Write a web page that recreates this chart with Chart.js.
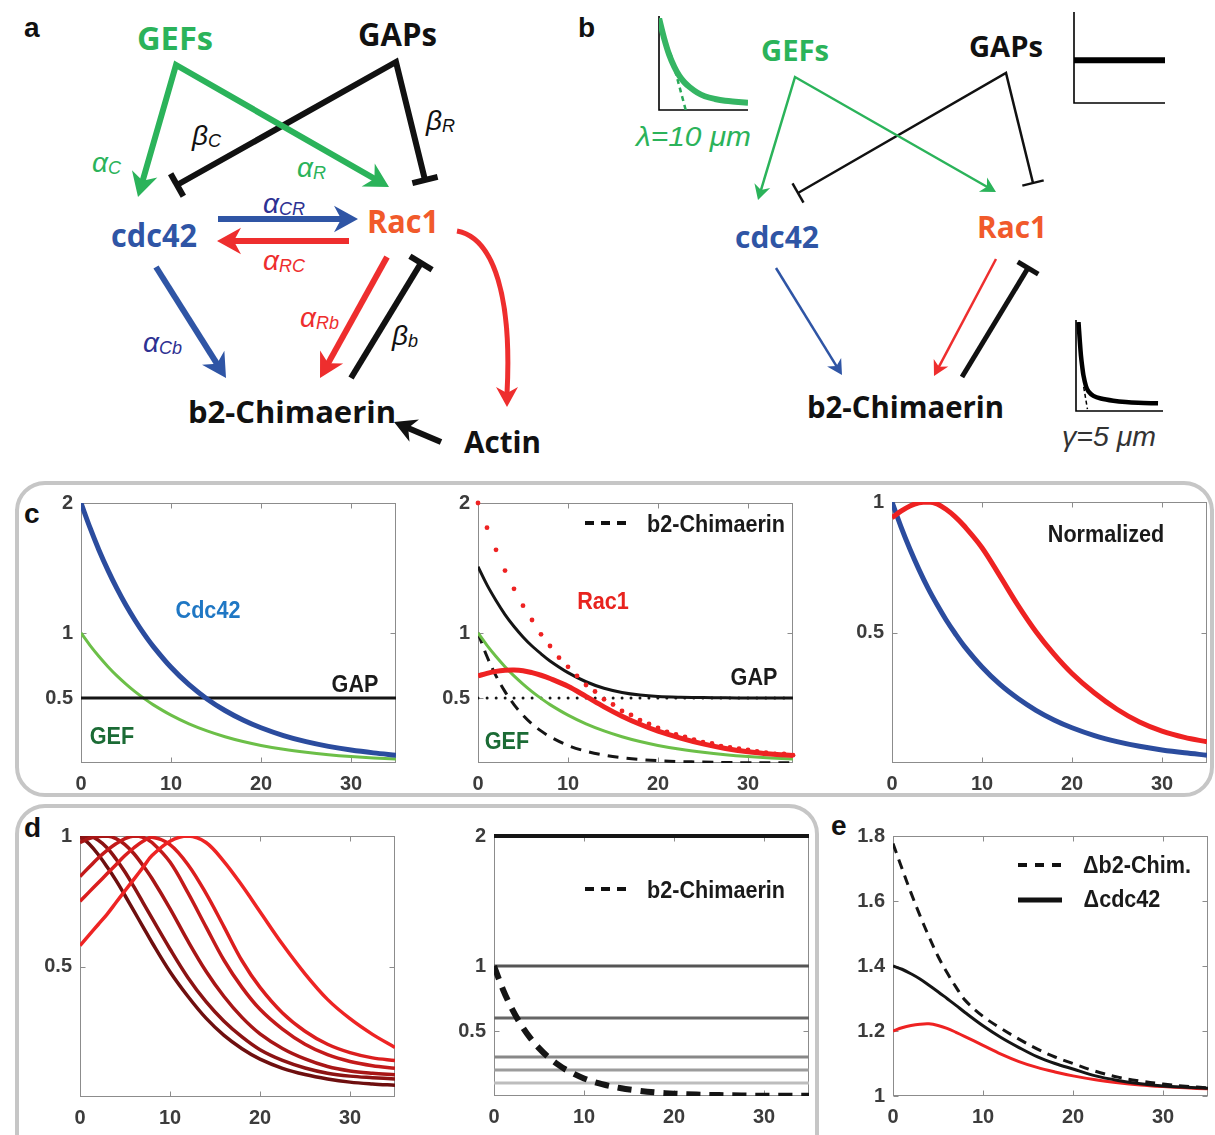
<!DOCTYPE html>
<html>
<head>
<meta charset="utf-8">
<script src="https://cdn.jsdelivr.net/npm/chart.js@4.4.1/dist/chart.umd.min.js"></script>
<style>
html, body { margin: 0; padding: 0; background: #fff; }
body { position: relative; width: 1215px; height: 1135px; overflow: hidden; font-family: 'Liberation Sans', Arial, sans-serif; }
canvas { position: absolute; z-index: 1; }
#diag { position: absolute; left: 0; top: 0; z-index: 0; }
.lbl { position: absolute; z-index: 2; font-weight: bold; font-size: 24px; line-height: 1; white-space: nowrap;
       transform: translate(-50%, -50%) scaleX(0.9); }
</style>
</head>
<body>
<svg id="diag" width="1215" height="1135"></svg>
<script>
// shared x grid (um) and ticks
const X = [0, 1, 2, 3, 4, 5, 6, 7, 8, 10, 12, 14, 16, 18, 20, 22.5, 25, 27.5, 30, 32.5, 35];
const xTicks = [0, 10, 20, 30];
const yTicksC = [0.5, 1, 2];
const yTicksN = [0.5, 1];
const yTicksE = [1, 1.2, 1.4, 1.6, 1.8];

// panel c
const cdc42 = [2.000, 1.810, 1.637, 1.482, 1.341, 1.213, 1.098, 0.993, 0.899, 0.736, 0.602, 0.493, 0.404, 0.331, 0.271, 0.211, 0.164, 0.128, 0.100, 0.078, 0.060];
const gef = [1.000, 0.905, 0.819, 0.741, 0.670, 0.607, 0.549, 0.497, 0.449, 0.368, 0.301, 0.247, 0.202, 0.165, 0.135, 0.105, 0.082, 0.064, 0.050, 0.039, 0.030];
const gapX = [0, 35];
const gapLevel = [0.5, 0.5];
const gapDecay = [1.510, 1.370, 1.250, 1.142, 1.050, 0.970, 0.900, 0.840, 0.785, 0.695, 0.625, 0.575, 0.543, 0.523, 0.512, 0.506, 0.503, 0.501, 0.500, 0.500, 0.500];
const rac1 = [0.670, 0.690, 0.705, 0.713, 0.715, 0.710, 0.695, 0.675, 0.650, 0.590, 0.512, 0.432, 0.360, 0.298, 0.245, 0.192, 0.147, 0.112, 0.087, 0.070, 0.058];
const b2Chim = [1.000, 0.819, 0.670, 0.549, 0.449, 0.368, 0.301, 0.247, 0.202, 0.135, 0.091, 0.061, 0.041, 0.027, 0.018, 0.011, 0.007, 0.004, 0.002, 0.0015, 0.001];
const dotX = [0, 1, 2, 3, 4, 5, 6, 7, 8, 9, 10, 11, 12, 13, 14, 15, 16, 17, 18, 19, 20, 21, 22, 23, 24, 25, 26, 27, 28, 29, 30, 31, 32, 33, 34, 35];
const rac1Dots = [2.00, 1.81, 1.64, 1.48, 1.34, 1.21, 1.10, 0.99, 0.90, 0.81, 0.74, 0.67, 0.60, 0.55, 0.49, 0.45, 0.40, 0.37, 0.33, 0.30, 0.27, 0.24, 0.22, 0.20, 0.18, 0.16, 0.15, 0.13, 0.12, 0.11, 0.10, 0.09, 0.08, 0.07, 0.07, 0.06];
const rac1Norm = [0.940, 0.965, 0.985, 0.997, 1.000, 0.993, 0.972, 0.944, 0.909, 0.825, 0.716, 0.604, 0.503, 0.417, 0.343, 0.268, 0.206, 0.157, 0.122, 0.098, 0.081];
const cdc42Norm = [1.000, 0.905, 0.819, 0.741, 0.670, 0.607, 0.549, 0.497, 0.449, 0.368, 0.301, 0.247, 0.202, 0.165, 0.135, 0.105, 0.082, 0.064, 0.050, 0.039, 0.030];

// panel d
const sweepA = [1.000, 0.970, 0.930, 0.882, 0.830, 0.772, 0.712, 0.652, 0.592, 0.480, 0.385, 0.302, 0.236, 0.185, 0.145, 0.110, 0.086, 0.069, 0.057, 0.050, 0.045];
const sweepB = [0.990, 1.000, 0.985, 0.955, 0.912, 0.862, 0.805, 0.745, 0.685, 0.567, 0.457, 0.365, 0.290, 0.230, 0.181, 0.140, 0.111, 0.091, 0.080, 0.074, 0.069];
const sweepC = [0.975, 0.990, 0.998, 1.000, 0.990, 0.967, 0.932, 0.887, 0.837, 0.722, 0.597, 0.482, 0.385, 0.305, 0.242, 0.186, 0.146, 0.117, 0.100, 0.091, 0.085];
const sweepD = [0.845, 0.880, 0.915, 0.945, 0.970, 0.990, 1.000, 0.995, 0.975, 0.900, 0.782, 0.652, 0.524, 0.420, 0.336, 0.260, 0.202, 0.162, 0.136, 0.120, 0.110];
const sweepE = [0.750, 0.785, 0.820, 0.855, 0.890, 0.925, 0.955, 0.980, 0.995, 0.967, 0.890, 0.780, 0.652, 0.522, 0.420, 0.322, 0.252, 0.202, 0.170, 0.150, 0.140];
const sweepF = [0.580, 0.620, 0.660, 0.700, 0.745, 0.790, 0.835, 0.880, 0.925, 0.980, 1.000, 0.975, 0.902, 0.810, 0.710, 0.585, 0.472, 0.374, 0.300, 0.240, 0.190];
const gapLevels = [2, 1, 0.6, 0.3, 0.2, 0.1];

// panel e
const deltaB2 = [1.777, 1.700, 1.625, 1.555, 1.490, 1.430, 1.380, 1.335, 1.295, 1.245, 1.208, 1.175, 1.145, 1.120, 1.100, 1.076, 1.058, 1.046, 1.037, 1.030, 1.025];
const deltaCdc42 = [1.400, 1.390, 1.376, 1.360, 1.341, 1.321, 1.300, 1.279, 1.257, 1.216, 1.180, 1.149, 1.121, 1.100, 1.083, 1.062, 1.048, 1.038, 1.031, 1.027, 1.024];
const deltaRac1 = [1.200, 1.210, 1.217, 1.221, 1.222, 1.217, 1.208, 1.196, 1.183, 1.156, 1.129, 1.106, 1.088, 1.074, 1.062, 1.050, 1.041, 1.034, 1.029, 1.025, 1.022];

// panel b insets
const lambdaX = [0, 2, 4, 6, 8, 10, 12, 15, 18, 22, 26, 30, 35];
const lambdaY = [1.0, 0.78, 0.60, 0.47, 0.37, 0.30, 0.25, 0.19, 0.15, 0.12, 0.10, 0.09, 0.08];
const lambdaTanX = [4.5, 10.5];
const lambdaTanY = [0.62, 0];
const gapInsetY = [0.48, 0.48];
const gammaX = [1, 1.5, 2, 2.5, 3, 4, 5, 7, 10, 15, 20, 25, 33];
const gammaY = [1.0, 0.8, 0.62, 0.5, 0.4, 0.28, 0.22, 0.17, 0.14, 0.115, 0.1, 0.092, 0.086];
const gammaTanX = [3.1, 4.6];
const gammaTanY = [0.27, 0.02];

const FONT = "'Liberation Sans', Arial, sans-serif";
const RED = '#ee2222';
const BLUE = '#2b4c9e';
const LGREEN = '#6cbf48';
const INK = '#151515';

function pts(xs, ys) {
  return xs.map((x, i) => ({ x: x, y: ys[i] }));
}

function line(data, color, width, dash) {
  return {
    data: data,
    borderColor: color,
    borderWidth: width,
    borderDash: dash || [],
    pointRadius: 0,
    fill: false,
    tension: 0.35
  };
}

// matlab style box with inward ticks, or plain left/bottom axes
const boxPlugin = {
  id: 'box',
  beforeDatasetsDraw(chart, args, opts) {
    const ctx = chart.ctx;
    const a = chart.chartArea;
    ctx.save();
    if (opts.mode === 'box') {
      const l = Math.round(a.left) + 0.5, r = Math.round(a.right) - 0.5;
      const t = Math.round(a.top) + 0.5, b = Math.round(a.bottom) - 0.5;
      ctx.strokeStyle = '#8c8c8c';
      ctx.lineWidth = 1;
      ctx.strokeRect(l, t, r - l, b - t);
      ctx.beginPath();
      chart.scales.x.ticks.forEach(tk => {
        const px = Math.round(chart.scales.x.getPixelForValue(tk.value)) + 0.5;
        ctx.moveTo(px, b); ctx.lineTo(px, b - 5);
        ctx.moveTo(px, t); ctx.lineTo(px, t + 5);
      });
      chart.scales.y.ticks.forEach(tk => {
        const py = Math.round(chart.scales.y.getPixelForValue(tk.value)) + 0.5;
        ctx.moveTo(l, py); ctx.lineTo(l + 5, py);
        ctx.moveTo(r, py); ctx.lineTo(r - 5, py);
      });
      ctx.stroke();
    } else {
      ctx.strokeStyle = '#000';
      ctx.lineWidth = 1.6;
      ctx.beginPath();
      ctx.moveTo(a.left, a.top - 2);
      ctx.lineTo(a.left, a.bottom);
      ctx.lineTo(a.right, a.bottom);
      ctx.stroke();
    }
    ctx.restore();
  }
};

function makePlot(area, yMin, yMax, yTicks, datasets, axes) {
  const L = area[0], T = area[1], R = area[2], B = area[3];
  const YW = axes ? 60 : 4, PT = axes ? 16 : 4, PR = axes ? 12 : 4, XH = axes ? 40 : 4;
  const canvas = document.createElement('canvas');
  canvas.width = (R - L) + YW + PR;
  canvas.height = (B - T) + PT + XH;
  canvas.style.left = (L - YW) + 'px';
  canvas.style.top = (T - PT) + 'px';
  document.body.appendChild(canvas);
  const tickFont = { family: FONT, size: 20, weight: 'bold' };
  return new Chart(canvas.getContext('2d'), {
    type: 'line',
    data: { datasets: datasets },
    options: {
      animation: false,
      responsive: false,
      devicePixelRatio: 1,
      layout: { padding: { left: axes ? 0 : 4, top: PT, right: PR, bottom: axes ? 0 : 4 } },
      plugins: { legend: { display: false }, tooltip: { enabled: false }, box: { mode: axes ? 'box' : 'axes' } },
      scales: {
        x: {
          type: 'linear', min: 0, max: 35, display: axes,
          grid: { display: false, drawTicks: false }, border: { display: false },
          ticks: { color: '#3c3c3c', font: tickFont, padding: 9, maxRotation: 0, autoSkip: false, callback: v => String(v) },
          afterBuildTicks: s => { s.ticks = xTicks.map(v => ({ value: v })); },
          afterFit: s => { s.height = XH; }
        },
        y: {
          type: 'linear', min: yMin, max: yMax, display: axes,
          grid: { display: false, drawTicks: false }, border: { display: false },
          ticks: { color: '#3c3c3c', font: tickFont, padding: 8, autoSkip: false, callback: v => String(v) },
          afterBuildTicks: s => { s.ticks = yTicks.map(v => ({ value: v })); },
          afterFit: s => { s.width = YW; }
        }
      }
    },
    plugins: [boxPlugin]
  });
}

// ---- panel c
makePlot([81, 499, 396, 763], 0, 2, yTicksC, [
  line(pts(X, cdc42), BLUE, 5),
  line(pts(gapX, gapLevel), INK, 3),
  line(pts(X, gef), LGREEN, 3)
], true);

makePlot([478, 499, 793, 763], 0, 2, yTicksC, [
  { data: pts(dotX, rac1Dots), showLine: false, pointRadius: 2.4, pointBackgroundColor: RED,
    pointBorderWidth: 0, borderColor: RED, clip: false },
  line(pts(X, rac1), RED, 5),
  line(pts(X, gapDecay), INK, 3),
  line(pts(X, gef), LGREEN, 3),
  line(pts(X, b2Chim), INK, 3, [11, 8]),
  Object.assign(line(pts(gapX, gapLevel), INK, 3, [0, 9]), { borderCapStyle: 'round' })
], true);

makePlot([892, 498, 1207, 763], 0, 1, yTicksN, [
  line(pts(X, rac1Norm), RED, 5),
  line(pts(X, cdc42Norm), BLUE, 5)
], true);

// ---- panel d
makePlot([80, 832, 395, 1097], 0, 1, yTicksN, [
  line(pts(X, sweepF), '#ee2424', 3.5),
  line(pts(X, sweepE), '#db1e1e', 3.5),
  line(pts(X, sweepD), '#c31a1a', 3.5),
  line(pts(X, sweepC), '#a81616', 3.5),
  line(pts(X, sweepB), '#8c1313', 3.5),
  line(pts(X, sweepA), '#6e0f0f', 3.5)
], true);

const levelColors = ['#151515', '#555555', '#666666', '#888888', '#9c9c9c', '#bdbdbd'];
const levelSets = gapLevels.map((v, i) =>
  Object.assign(line(pts(gapX, [v, v]), levelColors[i], i === 0 ? 4 : 3), { clip: false }));
makePlot([494, 832, 809, 1096], 0, 2, yTicksC,
  [line(pts(X, b2Chim), INK, 6, [14, 9])].concat(levelSets), true);

// ---- panel e
makePlot([893, 832, 1208, 1096], 1, 1.8, yTicksE, [
  line(pts(X, deltaB2), INK, 3, [10, 7]),
  line(pts(X, deltaCdc42), INK, 3),
  line(pts(X, deltaRac1), RED, 3)
], true);

// ---- panel b insets
makePlot([655, 18, 748, 114], 0, 1, [], [
  line(pts(lambdaX, lambdaY), '#35b563', 6),
  line(pts(lambdaTanX, lambdaTanY), '#2aa858', 2.5, [5, 4])
], false);
makePlot([1070, 14, 1165, 107], 0, 1, [], [
  line(pts(gapX, gapInsetY), '#000', 6)
], false);
makePlot([1072, 322, 1163, 415], 0, 1, [], [
  line(pts(gammaX, gammaY), '#000', 4.5),
  line(pts(gammaTanX, gammaTanY), '#000', 1.5, [4, 3])
], false);

// ---- text labels inside the plots
function label(text, x, y, color) {
  const d = document.createElement('div');
  d.className = 'lbl';
  d.textContent = text;
  d.style.left = x + 'px';
  d.style.top = y + 'px';
  d.style.color = color || '#1a1a1a';
  document.body.appendChild(d);
}
label('Cdc42', 208, 610, '#1f77c4');
label('GAP', 355, 684);
label('GEF', 112, 736, '#1b6b35');
label('b2-Chimaerin', 716, 524);
label('Rac1', 603, 601, '#e8231e');
label('GAP', 754, 677);
label('GEF', 507, 741, '#1b6b35');
label('Normalized', 1106, 534);
label('b2-Chimaerin', 716, 890);
label('\u0394b2-Chim.', 1137, 865);
label('\u0394cdc42', 1122, 899);

// ---- diagrams, frames and legend samples (svg)
const svg = document.getElementById('diag');
const NS = 'http://www.w3.org/2000/svg';
function el(tag, attrs, text) {
  const e = document.createElementNS(NS, tag);
  for (const k in attrs) e.setAttribute(k, attrs[k]);
  if (text !== undefined) e.textContent = text;
  svg.appendChild(e);
  return e;
}
function txt(s, x, y, o) {
  const a = { x: x, y: y, fill: o.fill || '#111', 'font-family': o.family || FONT,
              'font-size': o.size, 'font-weight': o.weight || 'bold' };
  if (o.len) { a.textLength = o.len; a.lengthAdjust = 'spacingAndGlyphs'; }
  if (o.italic) a['font-style'] = 'italic';
  return el('text', a, s);
}
function greek(g, sub, x, y, fill) {
  const t = el('text', { x: x, y: y, fill: fill, 'font-family': FONT, 'font-size': 28, 'font-style': 'italic' });
  const a = document.createElementNS(NS, 'tspan'); a.textContent = g; t.appendChild(a);
  const b = document.createElementNS(NS, 'tspan');
  b.setAttribute('font-size', 18); b.setAttribute('dy', 2); b.textContent = sub; t.appendChild(b);
}
function unit(x1, y1, x2, y2) {
  const d = Math.hypot(x2 - x1, y2 - y1);
  return [(x2 - x1) / d, (y2 - y1) / d];
}
function head(x1, y1, x2, y2, col, size) {
  const [ux, uy] = unit(x1, y1, x2, y2), nx = -uy, ny = ux;
  const bx = x2 - ux * size, by = y2 - uy * size, hw = size * 0.55;
  const mx = x2 - ux * size * 0.7, my = y2 - uy * size * 0.7;
  el('polygon', { points: `${x2},${y2} ${bx + nx * hw},${by + ny * hw} ${mx},${my} ${bx - nx * hw},${by - ny * hw}`, fill: col });
}
function bar(x1, y1, x2, y2, col, w, half) {
  const [ux, uy] = unit(x1, y1, x2, y2), nx = -uy, ny = ux;
  el('line', { x1: x2 + nx * half, y1: y2 + ny * half, x2: x2 - nx * half, y2: y2 - ny * half, stroke: col, 'stroke-width': w });
}
function link(p, col, w, start, end, size) {
  const q = p.map(v => v.slice());
  const n = p.length;
  if (end === 'arrow') {
    const [ux, uy] = unit(p[n - 2][0], p[n - 2][1], p[n - 1][0], p[n - 1][1]);
    q[n - 1] = [p[n - 1][0] - ux * size * 0.6, p[n - 1][1] - uy * size * 0.6];
  }
  if (start === 'arrow') {
    const [ux, uy] = unit(p[1][0], p[1][1], p[0][0], p[0][1]);
    q[0] = [p[0][0] - ux * size * 0.6, p[0][1] - uy * size * 0.6];
  }
  el('path', { d: 'M' + q.map(v => v.join(',')).join(' L'), fill: 'none', stroke: col, 'stroke-width': w,
               'stroke-linejoin': 'miter', 'stroke-miterlimit': 10 });
  if (end === 'arrow') head(p[n - 2][0], p[n - 2][1], p[n - 1][0], p[n - 1][1], col, size);
  if (end === 'bar') bar(p[n - 2][0], p[n - 2][1], p[n - 1][0], p[n - 1][1], col, w, size / 2);
  if (start === 'arrow') head(p[1][0], p[1][1], p[0][0], p[0][1], col, size);
  if (start === 'bar') bar(p[1][0], p[1][1], p[0][0], p[0][1], col, w, size / 2);
}

// frames
el('rect', { x: 17, y: 483, width: 1195, height: 312, rx: 28, fill: 'none', stroke: '#c6c6c6', 'stroke-width': 4 });
el('rect', { x: 17, y: 806, width: 800, height: 420, rx: 28, fill: 'none', stroke: '#c6c6c6', 'stroke-width': 4 });

// legend samples
el('line', { x1: 585, y1: 523, x2: 628, y2: 523, stroke: '#111', 'stroke-width': 4, 'stroke-dasharray': '9 7' });
el('line', { x1: 585, y1: 889, x2: 628, y2: 889, stroke: '#111', 'stroke-width': 4, 'stroke-dasharray': '9 7' });
el('line', { x1: 1018, y1: 865, x2: 1062, y2: 865, stroke: '#111', 'stroke-width': 4, 'stroke-dasharray': '9 8' });
el('line', { x1: 1018, y1: 900, x2: 1062, y2: 900, stroke: '#111', 'stroke-width': 5 });

// panel letters
txt('a', 24, 37, { size: 28 });
txt('b', 578, 37, { size: 28 });
txt('c', 24, 523, { size: 28 });
txt('d', 24, 837, { size: 28 });
txt('e', 831, 835, { size: 28 });

const G = '#2bb35a', BL = '#2f55a5', RD = '#ee2e2e', BK = '#111';
const NODE = "'Open Sans', 'Noto Sans', sans-serif";

// panel a
link([[177, 185], [396, 62], [425, 180]], BK, 6, 'bar', 'bar', 26);
link([[138, 197], [176, 65], [389, 187]], G, 6, 'arrow', 'arrow', 24);
link([[218, 219], [358, 219]], BL, 6, null, 'arrow', 24);
link([[349, 241], [217, 241]], RD, 6, null, 'arrow', 24);
link([[156, 267], [226, 378]], BL, 6, null, 'arrow', 24);
link([[387, 257], [320, 378]], RD, 6, null, 'arrow', 24);
link([[351, 378], [421, 263]], BK, 6, null, 'bar', 26);
link([[441, 442], [394, 422]], BK, 6, null, 'arrow', 22);
el('path', { d: 'M457,231 C495,238 512,300 507,394', fill: 'none', stroke: RD, 'stroke-width': 5 });
head(507, 378, 507, 407, RD, 20);

txt('GEFs', 137, 50, { size: 32, fill: G, family: NODE, len: 76 });
txt('GAPs', 358, 46, { size: 32, fill: BK, family: NODE, len: 79 });
txt('cdc42', 111, 247, { size: 32, fill: BL, family: NODE, len: 86 });
txt('Rac1', 367, 233, { size: 32, fill: '#f15a2b', family: NODE, len: 72 });
txt('b2-Chimaerin', 188, 423, { size: 31, fill: BK, family: NODE, len: 208 });
txt('Actin', 464, 453, { size: 31, fill: BK, family: NODE, len: 77 });
greek('\u03b1', 'C', 92, 172, G);
greek('\u03b2', 'C', 192, 145, BK);
greek('\u03b1', 'R', 297, 177, G);
greek('\u03b2', 'R', 426, 130, BK);
greek('\u03b1', 'CR', 263, 213, '#2e3192');
greek('\u03b1', 'RC', 263, 270, RD);
greek('\u03b1', 'Cb', 143, 352, '#2e3192');
greek('\u03b1', 'Rb', 300, 327, RD);
greek('\u03b2', 'b', 392, 345, BK);

// panel b
link([[798, 193], [1006, 73], [1033, 183]], BK, 2.5, 'bar', 'bar', 22);
link([[758, 200], [795, 77], [996, 192]], G, 2.5, 'arrow', 'arrow', 15);
link([[776, 268], [842, 375]], BL, 2.5, null, 'arrow', 15);
link([[996, 259], [934, 376]], RD, 2.5, null, 'arrow', 15);
link([[962, 377], [1028, 268]], BK, 5, null, 'bar', 24);

txt('GEFs', 761, 61, { size: 29, fill: G, family: NODE, len: 68 });
txt('GAPs', 969, 57, { size: 29, fill: BK, family: NODE, len: 74 });
txt('cdc42', 735, 248, { size: 31, fill: BL, family: NODE, len: 84 });
txt('Rac1', 977, 238, { size: 31, fill: '#f15a2b', family: NODE, len: 70 });
txt('b2-Chimaerin', 807, 418, { size: 30, fill: BK, family: NODE, len: 197 });
txt('\u03bb=10 \u03bcm', 636, 146, { size: 27, fill: G, weight: 'normal', italic: true, len: 115 });
txt('\u03b3=5 \u03bcm', 1062, 446, { size: 27, fill: '#333', weight: 'normal', italic: true, len: 94 });
</script>
</body>
</html>
